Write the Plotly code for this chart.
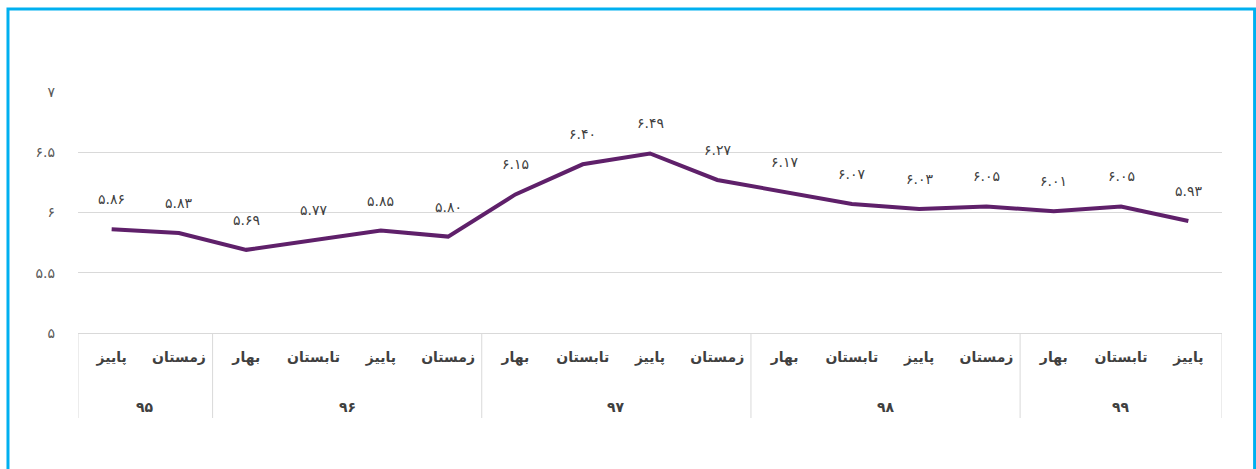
import plotly.graph_objects as go

# quarterly values (seasons of Iranian years 95-99)
seasons = ['پاییز', 'زمستان',
           'بهار', 'تابستان', 'پاییز', 'زمستان',
           'بهار', 'تابستان', 'پاییز', 'زمستان',
           'بهار', 'تابستان', 'پاییز', 'زمستان',
           'بهار', 'تابستان', 'پاییز']
values = [5.86, 5.83, 5.69, 5.77, 5.85, 5.80, 6.15, 6.40, 6.49, 6.27,
          6.17, 6.07, 6.03, 6.05, 6.01, 6.05, 5.93]
year_labels = ['۹۵', '۹۶', '۹۷', '۹۸', '۹۹']
year_counts = [2, 4, 4, 4, 3]
y_ticks = [5, 5.5, 6, 6.5, 7]
y_ticktext = ['۵', '۵.۵', '۶', '۶.۵', '۷']

FA = str.maketrans('0123456789', '۰۱۲۳۴۵۶۷۸۹')


def fa(v):
    return f'{v:.2f}'.translate(FA)


xs = list(range(len(values)))
GRID = '#d9d9d9'
PLOT_H = 469 - 92 - 136

fig = go.Figure()
fig.add_trace(go.Scatter(
    x=xs, y=values,
    mode='lines',
    line=dict(color='#5f206a', width=4),
    hoverinfo='y',
))

# data labels sit well above the line
for i, v in enumerate(values):
    fig.add_annotation(x=i, y=v, text=fa(v), showarrow=False, yshift=30,
                       font=dict(size=14, color='#404040'))

# year row + group dividers below the axis
start = 0
fig.add_shape(type='line', xref='x', yref='paper', x0=-0.5, x1=-0.5,
              y0=0, y1=-85 / PLOT_H, line=dict(color=GRID, width=1))
for lab, n in zip(year_labels, year_counts):
    end = start + n
    fig.add_annotation(x=(start + end - 1) / 2, xref='x', y=-74 / PLOT_H,
                       yref='paper', yanchor='middle', text=lab,
                       showarrow=False,
                       font=dict(size=14, color='#404040', weight='bold'))
    fig.add_shape(type='line', xref='x', yref='paper', x0=end - 0.5,
                  x1=end - 0.5, y0=0, y1=-85 / PLOT_H,
                  line=dict(color=GRID, width=1))
    start = end

fig.update_xaxes(
    range=[-0.5, len(values) - 0.5],
    tickvals=xs, ticktext=seasons,
    showline=True, linecolor=GRID, linewidth=1,
    showgrid=False, zeroline=False, ticks='',
    ticklabelstandoff=11,
    tickfont=dict(size=14, color='#404040', weight='bold'),
    automargin=False,
)
fig.update_yaxes(
    range=[5, 7],
    tickvals=y_ticks, ticktext=y_ticktext,
    showgrid=True, gridcolor=GRID, gridwidth=1,
    zeroline=False,
    tickfont=dict(size=14, color='#595959'),
    ticklabelstandoff=22,
    automargin=False,
)

fig.add_shape(type='rect', xref='paper', yref='paper',
              x0=-0.0612, x1=1.0285, y0=-0.6, y1=1 + 83 / PLOT_H,
              line=dict(color='#00b0f0', width=3))

fig.update_layout(
    width=1256, height=469,
    margin=dict(l=78, r=34, t=92, b=136),
    font=dict(family='DejaVu Sans, Noto Sans, sans-serif'),
    plot_bgcolor='white', paper_bgcolor='white',
    showlegend=False,
)

fig.write_html('out.html', config={'displayModeBar': False},
               post_script="document.body.style.margin='0';"
                           "document.body.style.overflow='hidden';")
